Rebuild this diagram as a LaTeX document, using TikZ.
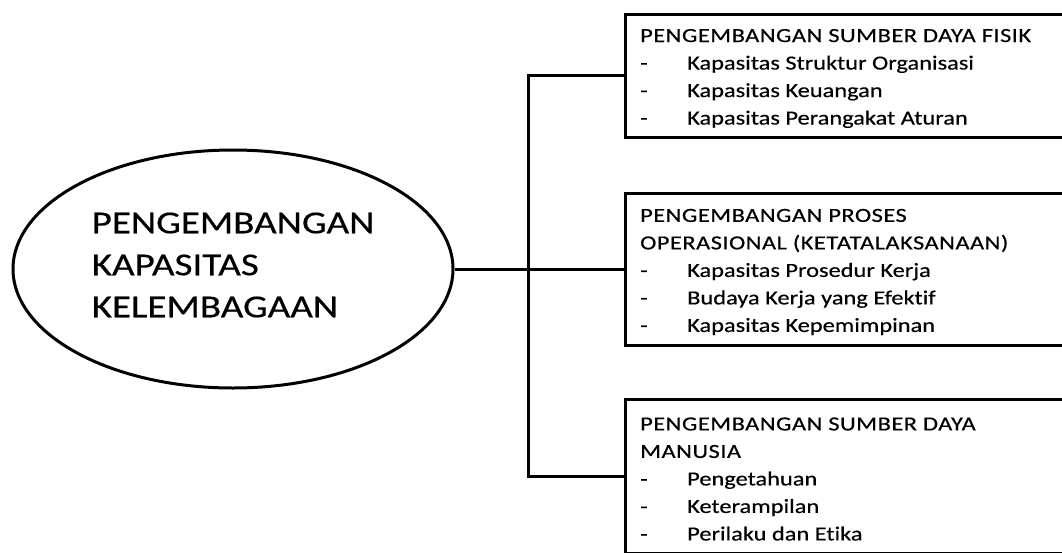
\documentclass[tikz,border=0pt]{standalone}
\usepackage{fontspec}
\setmainfont{Carlito}[FakeStretch=1.22,FakeBold=0.4,Ligatures=NoCommon]
\usetikzlibrary{shapes.geometric}
\newcommand{\itm}[1]{\makebox[47pt][l]{-}#1}
\newcommand{\ttl}[1]{{\addfontfeature{LetterSpace=2.5}#1}}
\begin{document}
\begin{tikzpicture}[x=1pt,y=-1pt,
  conn/.style={line width=3pt,line join=miter},
  boxnode/.style={draw,line width=3pt,rectangle,anchor=west,minimum width=460pt,inner sep=0pt},
  boxtext/.style={anchor=west,align=left,inner sep=0pt,xshift=16pt,yshift=-3pt,
    font=\fontsize{20}{27.5}\selectfont},
  ellnode/.style={draw,line width=3pt,ellipse,inner sep=0pt,minimum width=440pt,
    minimum height=238pt},
  elltext/.style={align=left,inner sep=0pt,yshift=4pt,font=\fontsize{32}{42}\selectfont}]
\clip (0,0) rectangle (1062,552);
\fill[white] (0,0) rectangle (1062,552);
\node[ellnode] (E) at (233,269) {};
\node[elltext] (ET) at (E.center) {PENGEMBANGAN\\KAPASITAS\\KELEMBAGAAN};
\node[boxnode,minimum height=123pt] (B1) at (624,75.5) {};
\node[boxtext] (T1) at (B1.west) {\ttl{PENGEMBANGAN SUMBER DAYA FISIK}\\\itm{Kapasitas Struktur Organisasi}\\\itm{Kapasitas Keuangan}\\\itm{Kapasitas Perangakat Aturan}};
\node[boxnode,minimum height=152pt] (B2) at (624,269) {};
\node[boxtext] (T2) at (B2.west) {\ttl{PENGEMBANGAN PROSES}\\\ttl{OPERASIONAL (KETATALAKSANAAN)}\\\itm{Kapasitas Prosedur Kerja}\\\itm{Budaya Kerja yang Efektif}\\\itm{Kapasitas Kepemimpinan}};
\node[boxnode,minimum height=154pt] (B3) at (624,476) {};
\node[boxtext] (T3) at (B3.west) {\ttl{PENGEMBANGAN SUMBER DAYA}\\\ttl{MANUSIA}\\\itm{Pengetahuan}\\\itm{Keterampilan}\\\itm{Perilaku dan Etika}};
\coordinate (J) at (528,269);
\draw[conn] (E.east) -- (J);
\draw[conn] (J) -- (B2.west);
\draw[conn] (B1.west) -- (B1.west -| J) -- (B3.west -| J) -- (B3.west);
\end{tikzpicture}
\end{document}
